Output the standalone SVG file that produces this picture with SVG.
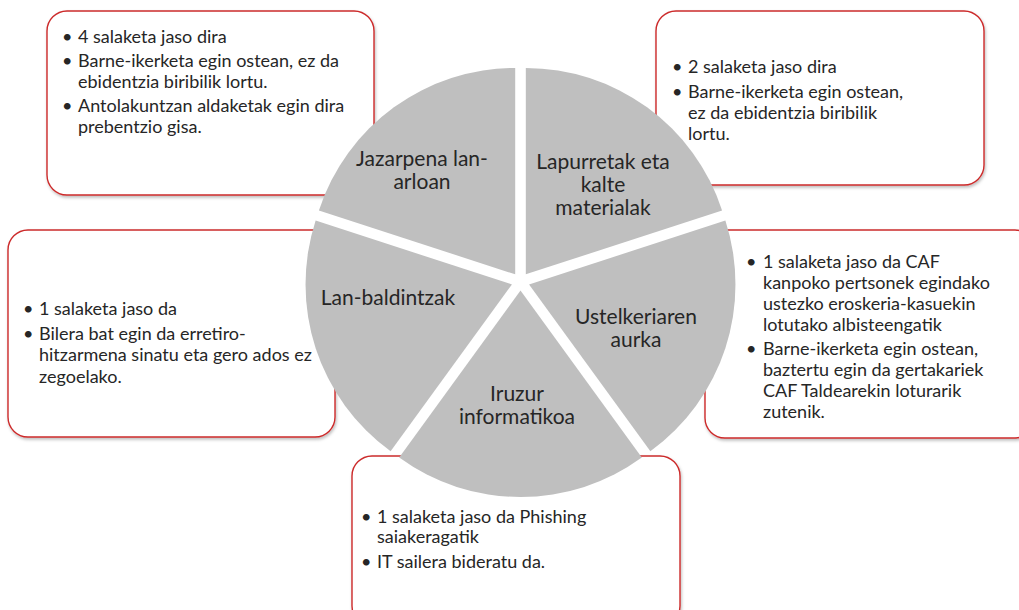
<svg xmlns="http://www.w3.org/2000/svg" width="1019" height="610" viewBox="0 0 1019 610">
<defs>
<filter id="sh" x="-5%" y="-5%" width="110%" height="115%">
<feDropShadow dx="1" dy="2" stdDeviation="1.5" flood-color="#000" flood-opacity="0.25"/>
</filter>
</defs>
<style>
.box{fill:#fff;stroke:#cc2b2b;stroke-width:1.4;filter:url(#sh)}
.t{font-family:Lato,"Open Sans",sans-serif;font-size:18px;fill:#262626}
.slice{fill:#bfbfbf}
.lbl{font-family:Lato,"Open Sans",sans-serif;font-size:21px;fill:#262626;text-anchor:middle}
</style>
<rect width="1019" height="610" fill="#fff"/>
<g id="box-jazarpena">
<rect class="box" x="47" y="11" width="327" height="184" rx="20"/>
<text class="t"><tspan x="62" y="43">•</tspan><tspan x="78" y="43">4 salaketa jaso dira</tspan>
<tspan x="62" y="67">•</tspan><tspan x="78" y="67">Barne-ikerketa egin ostean, ez da</tspan>
<tspan x="78" y="88">ebidentzia biribilik lortu.</tspan>
<tspan x="62" y="112">•</tspan><tspan x="78" y="112">Antolakuntzan aldaketak egin dira</tspan>
<tspan x="78" y="133">prebentzio gisa.</tspan></text>
</g>
<g id="box-lapurretak">
<rect class="box" x="656" y="11" width="328" height="174" rx="20"/>
<text class="t"><tspan x="672" y="73">•</tspan><tspan x="688" y="73">2 salaketa jaso dira</tspan>
<tspan x="672" y="98">•</tspan><tspan x="688" y="98">Barne-ikerketa egin ostean,</tspan>
<tspan x="688" y="119">ez da ebidentzia biribilik</tspan>
<tspan x="688" y="140">lortu.</tspan></text>
</g>
<g id="box-lanbaldintzak">
<rect class="box" x="8" y="230" width="327" height="207" rx="20"/>
<text class="t"><tspan x="23" y="315">•</tspan><tspan x="39" y="315">1 salaketa jaso da</tspan>
<tspan x="23" y="340">•</tspan><tspan x="39" y="340">Bilera bat egin da erretiro-</tspan>
<tspan x="39" y="361">hitzarmena sinatu eta gero ados ez</tspan>
<tspan x="39" y="383">zegoelako.</tspan></text>
</g>
<g id="box-ustelkeria">
<rect class="box" x="705" y="230" width="330" height="208" rx="20"/>
<text class="t"><tspan x="746" y="268">•</tspan><tspan x="763" y="268">1 salaketa jaso da CAF</tspan>
<tspan x="763" y="289">kanpoko pertsonek egindako</tspan>
<tspan x="763" y="310">ustezko eroskeria-kasuekin</tspan>
<tspan x="763" y="331">lotutako albisteengatik</tspan>
<tspan x="746" y="355">•</tspan><tspan x="763" y="355">Barne-ikerketa egin ostean,</tspan>
<tspan x="763" y="376">baztertu egin da gertakariek</tspan>
<tspan x="763" y="397">CAF Taldearekin loturarik</tspan>
<tspan x="763" y="418">zutenik.</tspan></text>
</g>
<g id="box-iruzur">
<rect class="box" x="352" y="456" width="328" height="170" rx="20"/>
<text class="t"><tspan x="361" y="523">•</tspan><tspan x="377" y="523">1 salaketa jaso da Phishing</tspan>
<tspan x="377" y="543">saiakeragatik</tspan>
<tspan x="361" y="568">•</tspan><tspan x="377" y="568">IT sailera bideratu da.</tspan></text>
</g>
<g id="pie">
<g id="slice-lapurretak">
<path class="slice" d="M525.79,274.32 L525.79,67.92 A206.4,206.4 0 0 1 722.09,210.54 Z"/>
<text class="lbl"><tspan x="603" y="169">Lapurretak eta</tspan><tspan x="603" y="192">kalte</tspan><tspan x="603" y="215">materialak</tspan></text>
</g>
<g id="slice-ustelkeria">
<path class="slice" d="M529.06,284.38 L725.36,220.6 A206.4,206.4 0 0 1 650.38,451.36 Z"/>
<text class="lbl"><tspan x="636" y="324">Ustelkeriaren</tspan><tspan x="636" y="347">aurka</tspan></text>
</g>
<g id="slice-iruzur">
<path class="slice" d="M520.5,290.6 L641.82,457.58 A206.4,206.4 0 0 1 399.18,457.58 Z"/>
<text class="lbl"><tspan x="517" y="401">Iruzur</tspan><tspan x="517" y="424">informatikoa</tspan></text>
</g>
<g id="slice-lanbaldintzak">
<path class="slice" d="M511.94,284.38 L390.62,451.36 A206.4,206.4 0 0 1 315.64,220.6 Z"/>
<text class="lbl"><tspan x="388" y="305">Lan-baldintzak</tspan></text>
</g>
<g id="slice-jazarpena">
<path class="slice" d="M515.21,274.32 L318.91,210.54 A206.4,206.4 0 0 1 515.21,67.92 Z"/>
<text class="lbl"><tspan x="422" y="166">Jazarpena lan-</tspan><tspan x="422" y="189">arloan</tspan></text>
</g>
</g>
</svg>
